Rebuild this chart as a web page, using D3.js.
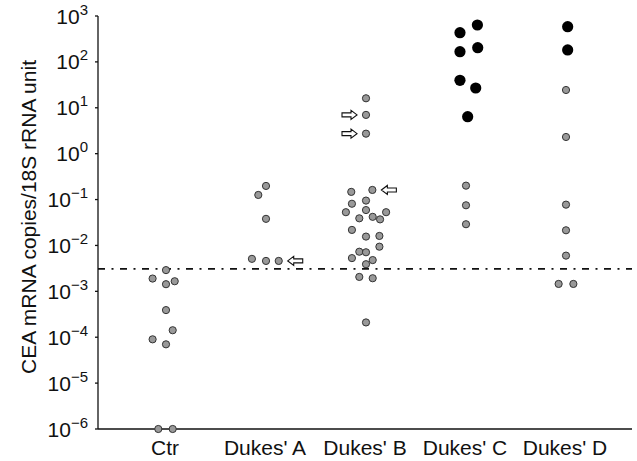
<!DOCTYPE html>
<html>
<head>
<meta charset="utf-8">
<script src="https://cdn.jsdelivr.net/npm/d3@7"></script>
<style>
  body { margin: 0; background: #fff; }
  svg text { font-family: "Liberation Sans", Arial, Helvetica, sans-serif; fill: #111; }
</style>
</head>
<body>
<div id="chart"></div>
<script>
// groups along the x axis
var groups = ["Ctr", "Dukes' A", "Dukes' B", "Dukes' C", "Dukes' D"];

// values, slots = side-by-side position inside a group
var ctrValues = [0.0029, 0.0019, 0.00166, 0.00143, 0.00039, 0.000142, 0.00009, 0.00007, 1e-6, 1e-6];
var ctrSlots  = [0, -2, 1.3, 0, 0, 1, -2, 0, -1.15, 1];

var aValues = [0.198, 0.126, 0.038, 0.0051, 0.0046, 0.0046];
var aSlots  = [0, -1.15, 0, -2.1, 0, 1.9];

var bValues = [16.1, 7.0, 2.73, 0.162, 0.147, 0.095, 0.081, 0.053, 0.059, 0.053, 0.039, 0.042, 0.037,
               0.0218, 0.0156, 0.0161, 0.0094, 0.0073, 0.0071, 0.0053, 0.0048, 0.0039, 0.00206, 0.00193, 0.00021];
var bSlots  = [0, 0, 0, 0.95, -2.2, 0, -2.1, -3, 0, 3, -1, 1, 2.1,
               -2.1, 0, 2, 2, -1, 0, -2.1, 1, 0, -1, 1, 0];

var cValues = [637, 433, 204, 167, 39.7, 27, 6.4, 0.201, 0.075, 0.029];
var cSlots  = [1.7, -0.9, 1.75, -0.9, -0.9, 1.45, 0.25, 0, 0, 0];
var cHigh   = [1, 1, 1, 1, 1, 1, 1, 0, 0, 0];

var dValues = [585, 182, 24.4, 2.31, 0.0775, 0.0214, 0.006, 0.00145, 0.00145];
var dSlots  = [0.25, 0.25, 0, 0, 0, 0, 0, -1.1, 1.1];
var dHigh   = [1, 1, 0, 0, 0, 0, 0, 0, 0];

var cutoff = 0.0031;
var tickExponents = [-6, -5, -4, -3, -2, -1, 0, 1, 2, 3];

// arrows point at a given sample (dir 1 = pointing right, -1 = pointing left)
var arrows = [
  {group: "Dukes' A", index: 5, dir: -1},
  {group: "Dukes' B", index: 1, dir: 1},
  {group: "Dukes' B", index: 2, dir: 1},
  {group: "Dukes' B", index: 3, dir: -1}
];

var width = 637, height = 461;
var slotW = 6.7;

var series = [
  {name: groups[0], values: ctrValues, slots: ctrSlots},
  {name: groups[1], values: aValues, slots: aSlots},
  {name: groups[2], values: bValues, slots: bSlots},
  {name: groups[3], values: cValues, slots: cSlots, high: cHigh},
  {name: groups[4], values: dValues, slots: dSlots, high: dHigh}
];

var points = [];
series.forEach(function(s) {
  s.values.forEach(function(v, i) {
    points.push({group: s.name, v: v, slot: s.slots[i], high: s.high ? s.high[i] : 0});
  });
});

var svg = d3.select("#chart").append("svg")
  .attr("width", width)
  .attr("height", height);

var y = d3.scaleLog().domain([1e-6, 1e3]).range([429, 16]);
var x = d3.scalePoint().domain(groups).range([166, 566]);
var axisLeft = 98, axisRight = 632;

// y axis
var yAxis = svg.append("g").attr("transform", "translate(" + axisLeft + ",0)");
yAxis.append("line")
  .attr("y1", y(1e3)).attr("y2", y(1e-6))
  .attr("stroke", "#111").attr("stroke-width", 1.3);
yAxis.selectAll(".tick").data(tickExponents).enter().append("line")
  .attr("x1", -3).attr("x2", 0)
  .attr("y1", function(d) { return y(Math.pow(10, d)); })
  .attr("y2", function(d) { return y(Math.pow(10, d)); })
  .attr("stroke", "#111").attr("stroke-width", 1.3);

var lab = yAxis.selectAll(".lab").data(tickExponents).enter().append("text")
  .attr("x", -10)
  .attr("y", function(d) { return y(Math.pow(10, d)) + 7.5; })
  .attr("text-anchor", "end")
  .style("font-size", "21px");
lab.append("tspan").text("10");
lab.append("tspan")
  .attr("dy", -9)
  .style("font-size", "15px")
  .text(function(d) { return d < 0 ? "\u2212" + Math.abs(d) : d; });

// x axis
svg.append("line")
  .attr("x1", axisLeft).attr("x2", axisRight)
  .attr("y1", y(1e-6)).attr("y2", y(1e-6))
  .attr("stroke", "#111").attr("stroke-width", 1.3);

svg.selectAll(".xlab").data(groups).enter().append("text")
  .attr("x", function(d) { return x(d) - 1; })
  .attr("y", 455)
  .attr("text-anchor", "middle")
  .style("font-size", "21px")
  .text(function(d) { return d; });

svg.append("text")
  .attr("transform", "translate(36,217) rotate(-90)")
  .attr("text-anchor", "middle")
  .style("font-size", "21px")
  .text("CEA mRNA copies/18S rRNA unit");

// detection cutoff
svg.append("line")
  .attr("x1", axisLeft).attr("x2", axisRight)
  .attr("y1", y(cutoff)).attr("y2", y(cutoff))
  .attr("stroke", "#111").attr("stroke-width", 1.8)
  .attr("stroke-dasharray", "7,6.5,2,6.5");

// dots
svg.selectAll(".dot").data(points).enter().append("circle")
  .attr("class", "dot")
  .attr("cx", function(d) { return x(d.group) + d.slot * slotW; })
  .attr("cy", function(d) { return y(d.v); })
  .attr("r", function(d) { return d.high ? 5.6 : 3.6; })
  .attr("fill", function(d) { return d.high ? "#000" : "#999"; })
  .attr("stroke", function(d) { return d.high ? "none" : "#333"; })
  .attr("stroke-width", 1);

// arrows
var arrowPath = "M0,0 L-6,-4.5 L-6,-2 L-15,-2 L-15,2 L-6,2 L-6,4.5 Z";
var gap = 9;
svg.selectAll(".arrow").data(arrows).enter().append("path")
  .attr("d", arrowPath)
  .attr("transform", function(a) {
    var s = series[groups.indexOf(a.group)];
    var px = x(a.group) + s.slots[a.index] * slotW - a.dir * gap;
    var py = y(s.values[a.index]);
    return "translate(" + px + "," + py + ") scale(" + a.dir + ",1)";
  })
  .attr("fill", "#fff")
  .attr("stroke", "#111")
  .attr("stroke-width", 1.1);
</script>
</body>
</html>
